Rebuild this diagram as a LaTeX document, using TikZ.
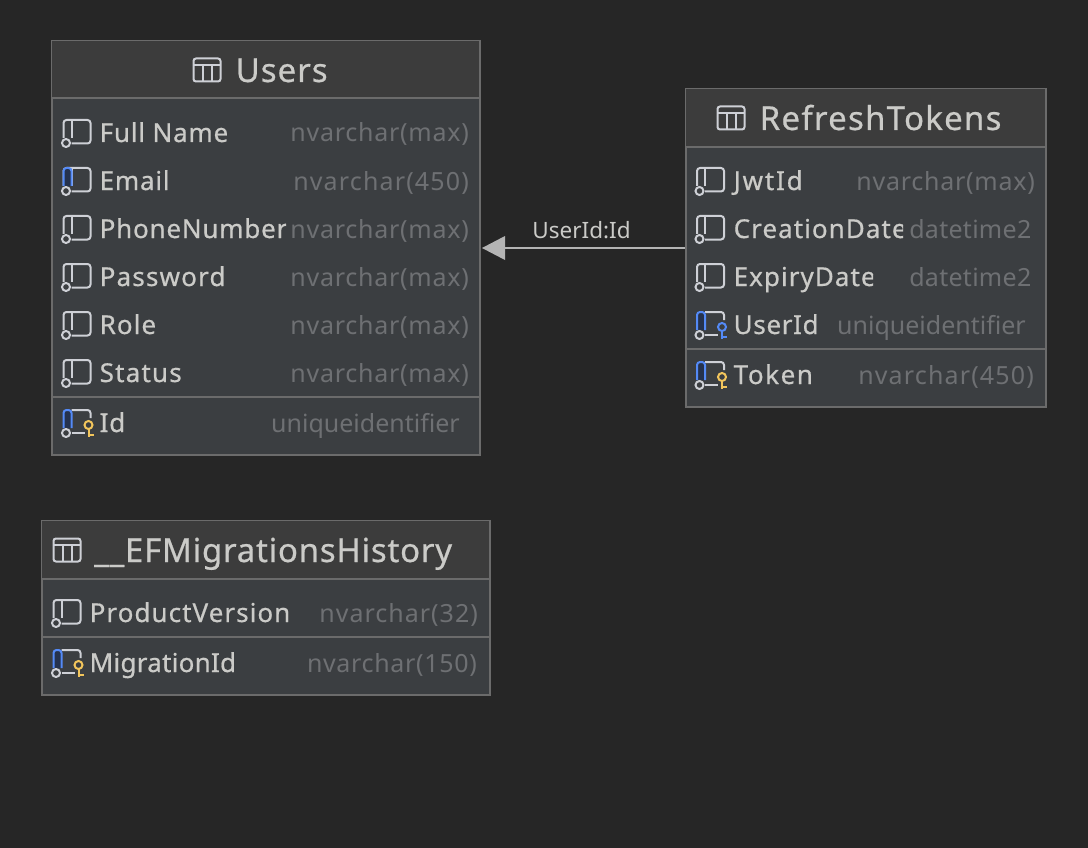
\documentclass[tikz,border=0pt]{standalone}
\usepackage{fontspec}
\setmainfont{Noto Sans}
\newfontfamily\namefont[LetterSpace=3,FakeBold=0.6]{Noto Sans}
\newfontfamily\typefont[LetterSpace=2]{Noto Sans}
\definecolor{bgc}{HTML}{262626}
\definecolor{headc}{HTML}{3C3C3C}
\definecolor{bodyc}{HTML}{3B3E41}
\definecolor{edgec}{HTML}{6B6B6B}
\definecolor{txtc}{HTML}{CBCBC8}
\definecolor{typec}{HTML}{6E7073}
\definecolor{iconc}{HTML}{CED0D6}
\definecolor{bluec}{HTML}{548AF7}
\definecolor{bluef}{HTML}{25324D}
\definecolor{goldc}{HTML}{F2C55C}
\definecolor{linkc}{HTML}{B4B4B4}
\tikzset{
  x=1pt,y=-1pt,
  tablebox/.style={draw=edgec,line width=2pt,fill=bodyc,inner sep=0pt,anchor=north west},
  headband/.style={fill=headc},
  divider/.style={draw=edgec,line width=2pt},
  titletext/.style={inner sep=0pt,anchor=base west,text=txtc,font=\namefont\fontsize{33}{35}\selectfont},
  nametext/.style={inner sep=0pt,anchor=base west,text=txtc,font=\namefont\fontsize{26}{28}\selectfont},
  typetext/.style={inner sep=0pt,anchor=base east,text=typec,font=\typefont\fontsize{25}{28}\selectfont},
  linklabel/.style={inner sep=0pt,anchor=base,text=txtc,font=\fontsize{22.5}{26}\selectfont},
  iconline/.style={draw=iconc,line width=2pt},
  iconblue/.style={draw=bluec,fill=bluef,line width=2pt,rounded corners=3pt},
  link/.style={draw=linkc,line width=2pt},
  linkhead/.style={fill=linkc,draw=none},
}
\newcommand\spaced[2]{{\addfontfeature{LetterSpace=#1}#2}}
% #1 x of icon, #2 y of row centre
\newcommand\colbase[2]{%
  \draw[iconline,rounded corners=3pt] (#1,#2+5) -- (#1,#2-13) -- (#1+27,#2-13) -- (#1+27,#2+10.5) -- (#1+8,#2+10.5);
  \draw[iconline] (#1+8,#2-13) -- (#1+8,#2+5);
  \draw[iconline] (#1+2.5,#2+10) circle[radius=4];
}
% key column frame: open at the lower right
\newcommand\colkeybase[2]{%
  \draw[iconline,rounded corners=3pt] (#1+8,#2-13) -- (#1+27,#2-13) -- (#1+27,#2-5);
  \draw[iconline] (#1+8,#2+10) -- (#1+21,#2+10);
  \draw[iconblue] (#1,#2+5) -- (#1,#2-13) -- (#1+8,#2-13) -- (#1+8,#2+5);
  \draw[iconline] (#1+2.5,#2+10) circle[radius=4];
}
\newcommand\colindexed[2]{%
  \colbase{#1}{#2}
  \draw[iconblue] (#1,#2+5) -- (#1,#2-13) -- (#1+8,#2-13) -- (#1+8,#2+5);
}
% #3 key colour
\newcommand\keyglyph[3]{%
  \draw[draw=#3,line width=2pt] (#1+25,#2+2) circle[radius=4];
  \draw[draw=#3,line width=2pt] (#1+25,#2+6) -- (#1+25,#2+14);
  \draw[draw=#3,line width=2pt] (#1+25,#2+12) -- (#1+30,#2+12);
}
\newcommand\tableglyph[2]{%
  \draw[iconline,rounded corners=2.5pt] (#1,#2-11.5) rectangle (#1+27,#2+11.5);
  \draw[iconline] (#1,#2-5) -- (#1+27,#2-5);
  \draw[iconline] (#1+9,#2-5) -- (#1+9,#2+11.5);
  \draw[iconline] (#1+18,#2-5) -- (#1+18,#2+11.5);
}
% #1 node name, #2 x, #3 baseline, #4 clip x, #5 text
\newcommand\colname[5]{%
  \begin{scope}
    \clip (#2-2,#3-26) rectangle (#4,#3+10);
    \node[nametext] (#1) at (#2,#3) {#5};
  \end{scope}
}
\begin{document}
\begin{tikzpicture}
\useasboundingbox (0,0) rectangle (1088,848);
\fill[bgc] (0,0) rectangle (1088,848);

% ---------- Users
\node[tablebox,minimum width=428pt,minimum height=414pt] (users) at (51,40) {};
\fill[headband] (52,41) rectangle (479,98);
\draw[divider] (52,98.5) -- (479,98.5);
\draw[divider] (52,397) -- (479,397);
\tableglyph{193.5}{70}
\node[titletext] (usersT) at (235.5,82) {Users};
\colbase{63.5}{133}  \colname{u1}{99.5}{142}{285}{Full Name}
\node[typetext] (u1t) at (469,142) {\spaced{3}{nvarchar(max)}};
\colindexed{63.5}{181} \colname{u2}{99.5}{190}{285}{Email}
\node[typetext] (u2t) at (469,190) {\spaced{4.6}{nvarchar(450)}};
\colbase{63.5}{229}  \colname{u3}{99.5}{238}{286}{PhoneNumber}
\node[typetext] (u3t) at (469,238) {\spaced{3}{nvarchar(max)}};
\colbase{63.5}{277}  \colname{u4}{99.5}{286}{285}{\spaced{4.5}{Password}}
\node[typetext] (u4t) at (469,286) {\spaced{3}{nvarchar(max)}};
\colbase{63.5}{325}  \colname{u5}{99.5}{334}{285}{\spaced{4}{Role}}
\node[typetext] (u5t) at (469,334) {\spaced{3}{nvarchar(max)}};
\colbase{63.5}{373}  \colname{u6}{99.5}{382}{285}{\spaced{4.5}{Status}}
\node[typetext] (u6t) at (469,382) {\spaced{3}{nvarchar(max)}};
\colkeybase{63.5}{423} \keyglyph{63.5}{423}{goldc}
\colname{u7}{99.5}{432}{285}{Id}
\node[typetext] (u7t) at (460,432) {\spaced{0}{uniqueidentifier}};

% ---------- RefreshTokens
\node[tablebox,minimum width=360pt,minimum height=318pt] (tokens) at (685,88) {};
\fill[headband] (686,89) rectangle (1045,146);
\draw[divider] (686,147) -- (1045,147);
\draw[divider] (686,349) -- (1045,349);
\tableglyph{717.5}{118}
\node[titletext] (tokensT) at (759.5,130) {\spaced{3.8}{RefreshTokens}};
\colbase{697}{181}  \colname{t1}{733.5}{190}{903}{\spaced{7}{JwtId}}
\node[typetext] (t1t) at (1035,190) {\spaced{3}{nvarchar(max)}};
\colbase{697}{229}  \colname{t2}{733.5}{238}{903}{\spaced{4}{CreationDate}}
\node[typetext] (t2t) at (1031.5,238) {\spaced{1.1}{datetime2}};
\colbase{697}{277}  \colname{t3}{733.5}{286}{873}{\spaced{4}{ExpiryDate}}
\node[typetext] (t3t) at (1031.5,286) {\spaced{1.1}{datetime2}};
\colkeybase{697}{325} \keyglyph{697}{325}{bluec}
\colname{t4}{733.5}{334}{903}{\spaced{2.5}{UserId}}
\node[typetext] (t4t) at (1026,334) {\spaced{0}{uniqueidentifier}};
\colkeybase{697}{375} \keyglyph{697}{375}{goldc}
\colname{t5}{733.5}{384}{903}{\spaced{6}{Token}}
\node[typetext] (t5t) at (1034,384) {\spaced{4.6}{nvarchar(450)}};

% ---------- __EFMigrationsHistory
\node[tablebox,minimum width=448pt,minimum height=174pt] (hist) at (41,520) {};
\fill[headband] (42,521) rectangle (489,578);
\draw[divider] (42,579) -- (489,579);
\draw[divider] (42,637) -- (489,637);
\tableglyph{53.5}{550}
\node[titletext] (histT) at (94,562) {\spaced{2.3}{\_\_EFMigrationsHistory}};
\colbase{53.5}{613}  \colname{h1}{89.5}{622}{289}{\spaced{4}{ProductVersion}}
\node[typetext] (h1t) at (478,622) {\spaced{4}{nvarchar(32)}};
\colkeybase{53.5}{663} \keyglyph{53.5}{663}{goldc}
\colname{h2}{89.5}{672}{236}{\spaced{1}{MigrationId}}
\node[typetext] (h2t) at (477,672) {\spaced{2.7}{nvarchar(150)}};

% ---------- connector
\coordinate (linkrow) at (0,248);
\coordinate (tipend) at (505,248);
\draw[link] (tokens.west |- linkrow) -- (tipend);
\fill[linkhead] (users.east |- linkrow) ++(1,0) -- (505,236) -- (505,260) -- cycle;
\node[linklabel] (linkT) at (581.5,238) {UserId:Id};
\end{tikzpicture}
\end{document}
